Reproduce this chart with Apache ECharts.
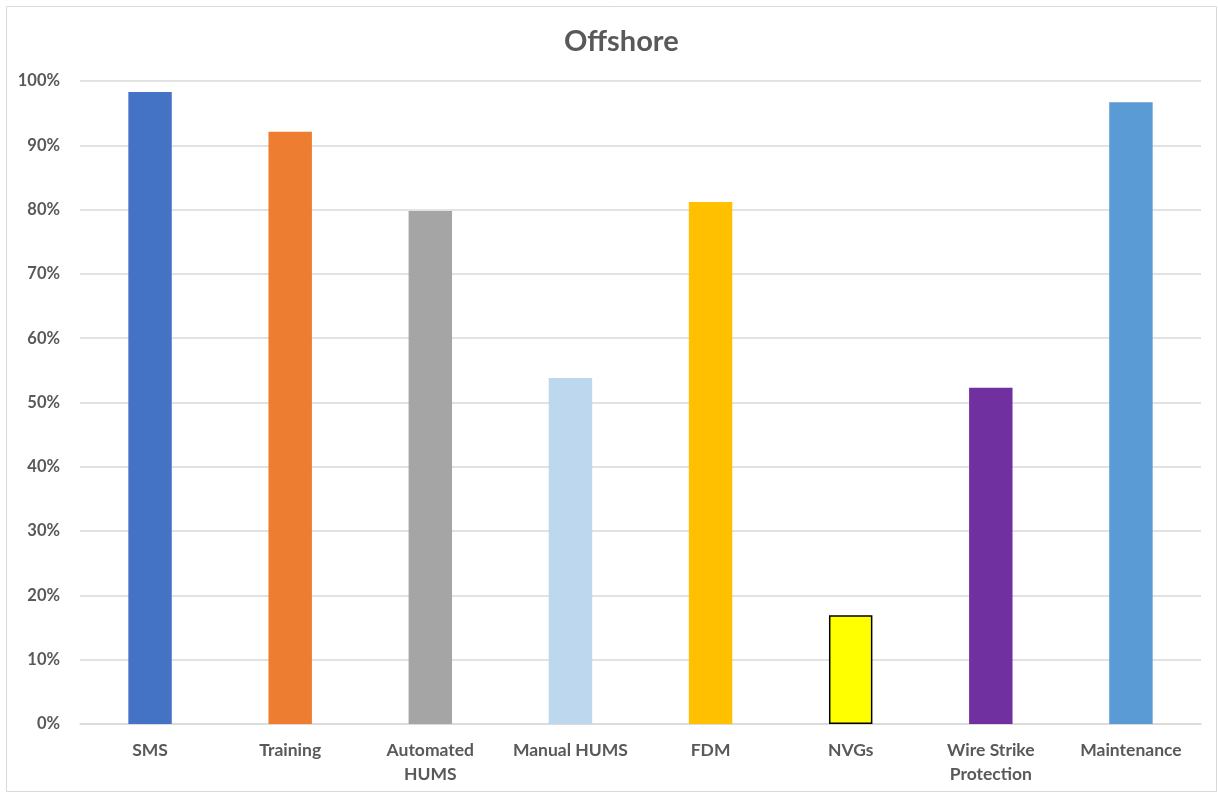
<!DOCTYPE html>
<html><head><meta charset="utf-8">
<script src="https://cdn.jsdelivr.net/npm/echarts@6/dist/echarts.min.js"></script>
<style>html,body{margin:0;padding:0;background:#fff}#c{width:1218px;height:793px}</style>
</head><body><div id="c"></div>
<script>
const categories = ['SMS','Training','Automated\nHUMS','Manual HUMS','FDM','NVGs','Wire Strike\nProtection','Maintenance'];
const values = [0.983, 0.921, 0.798, 0.538, 0.812, 0.169, 0.523, 0.967];
const colors = ['#4472C4','#ED7D31','#A5A5A5','#BDD7EE','#FFC000','#FFFF00','#7030A0','#5B9BD5'];
const yTicks = [0,0.1,0.2,0.3,0.4,0.5,0.6,0.7,0.8,0.9,1.0];
const font = 'Lato, "Open Sans", sans-serif';
const chart = echarts.init(document.getElementById('c'));
chart.setOption({
  animation:false,
  title:{text:'Offshore',left:559,top:22,textStyle:{fontFamily:font,fontSize:29,fontWeight:'bold',color:'#595959'}},
  graphic:[{type:'rect',shape:{x:6.5,y:6.5,width:1210,height:785},style:{fill:'none',stroke:'#D9D9D9',lineWidth:1},silent:true}],
  grid:{left:80,right:17,top:81,bottom:69},
  xAxis:{type:'category',data:categories,
    axisLine:{show:true,lineStyle:{color:'#D9D9D9',width:1.5}},axisTick:{show:false},
    axisLabel:{interval:0,margin:14,fontFamily:font,fontSize:17.5,fontWeight:'bold',color:'#595959',lineHeight:24}},
  yAxis:{type:'value',min:0,max:1,interval:0.1,
    axisLine:{show:false},axisTick:{show:false},
    splitLine:{lineStyle:{color:'#D9D9D9',width:1.5}},
    axisLabel:{margin:20,fontFamily:font,fontSize:16.5,fontWeight:'bold',color:'#595959',
      formatter:v=>Math.round(v*100)+'%'}},
  series:[{type:'bar',barWidth:'31%',
    data:values.map((v,i)=>({value:v,itemStyle:{color:colors[i],
      borderColor:i===5?'#000':undefined,borderWidth:i===5?1.5:0}}))}]
});
</script></body></html>
